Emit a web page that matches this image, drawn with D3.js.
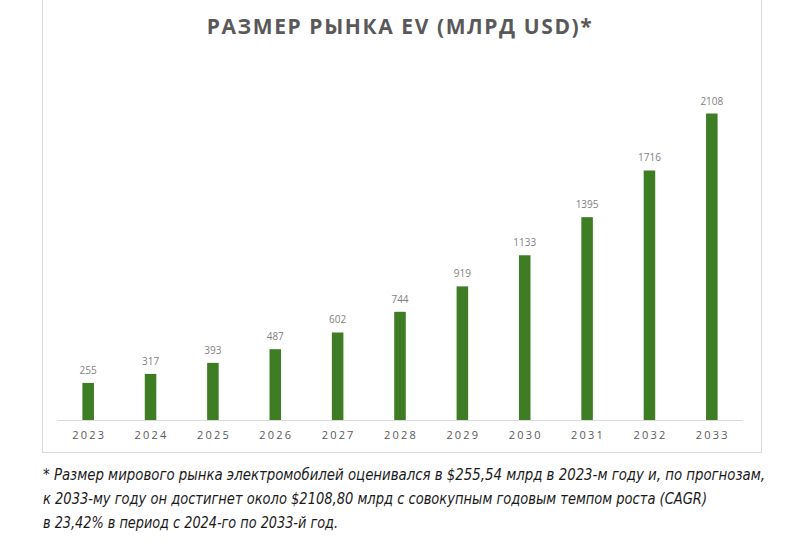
<!DOCTYPE html>
<html><head><meta charset="utf-8">
<script src="https://cdn.jsdelivr.net/npm/d3@7"></script>
<style>body{margin:0;background:#fff}svg{display:block}</style>
</head><body>
<svg id="c" width="800" height="546"></svg>
<script>
const years = ["2023","2024","2025","2026","2027","2028","2029","2030","2031","2032","2033"];
const values = [255,317,393,487,602,744,919,1133,1395,1716,2108];
const title = "РАЗМЕР РЫНКА EV (МЛРД USD)*";
const notes = [
  "* Размер мирового рынка электромобилей оценивался в $255,54 млрд в 2023-м году и, по прогнозам,",
  "к 2033-му году он достигнет около $2108,80 млрд с совокупным годовым темпом роста (CAGR)",
  "в 23,42% в период с 2024-го по 2033-й год."
];
const noteWidths = [722, 664, 295];

const svg = d3.select("#c");
svg.append("rect").attr("x",42.5).attr("y",-2).attr("width",719).attr("height",454.5)
  .attr("fill","none").attr("stroke","#d9d9d9").attr("stroke-width",1);

svg.append("text").attr("x",400).attr("y",34).attr("text-anchor","middle")
  .attr("font-family","'Open Sans'").attr("font-weight",700).attr("font-size",21)
  .attr("letter-spacing",1.6).attr("fill","#595959").text(title);

const x = d3.scaleBand().domain(years).range([57,743]).paddingInner(0.815).paddingOuter(0.4075);
const y = d3.scaleLinear().domain([0,2108]).range([420,113.5]);

svg.append("g").selectAll("rect").data(values).join("rect")
  .attr("x",(d,i)=>x(years[i])).attr("width",x.bandwidth())
  .attr("y",d=>y(d)).attr("height",d=>y(0)-y(d)).attr("fill","#3e7d24");

svg.append("g").selectAll("text").data(values).join("text")
  .attr("x",(d,i)=>x(years[i])+x.bandwidth()/2).attr("y",d=>y(d)-9)
  .attr("text-anchor","middle").attr("font-family","'Open Sans'").attr("font-size",10)
  .attr("fill","#7f7f7f").text(d=>d);

const ax = svg.append("g").attr("transform","translate(0,420)")
  .call(d3.axisBottom(x).tickSize(0).tickPadding(11));
ax.select(".domain").attr("stroke","#d9d9d9").attr("d","M57,0.5H743");
ax.selectAll("text").attr("font-family","'Open Sans'").attr("font-size",11)
  .attr("letter-spacing",2.2).attr("fill","#595959").attr("dx",1);

svg.append("g").selectAll("text").data(notes).join("text")
  .attr("x",43).attr("y",(d,i)=>480+i*24)
  .attr("font-family","'Liberation Sans Narrow','DejaVu Sans Condensed',sans-serif")
  .attr("font-style","italic").attr("font-size",15).attr("fill","#1a1a1a")
  .attr("textLength",(d,i)=>noteWidths[i]).attr("lengthAdjust","spacingAndGlyphs")
  .text(d=>d);
</script>
</body></html>
